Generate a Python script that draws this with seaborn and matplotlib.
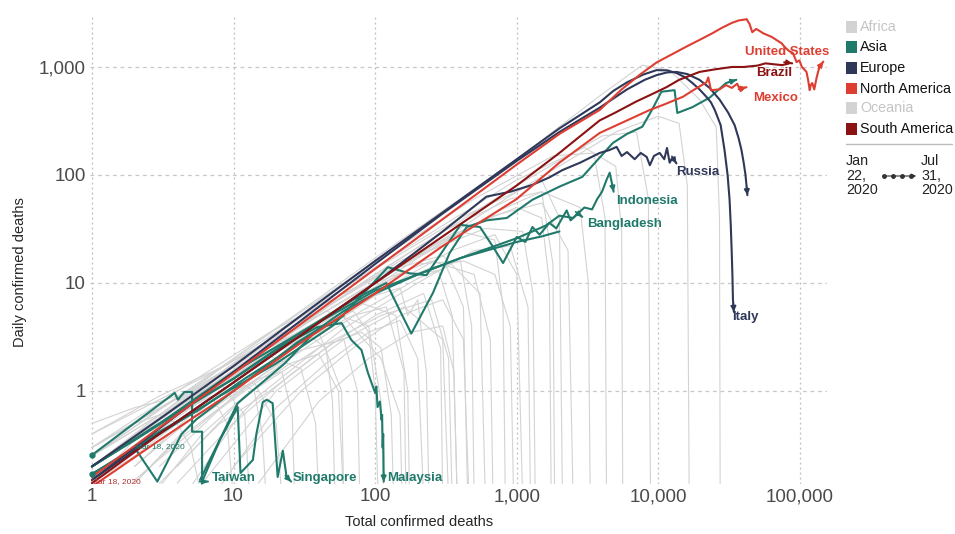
import matplotlib
matplotlib.use("Agg")
import matplotlib.pyplot as plt
from matplotlib.lines import Line2D
from matplotlib.patches import Rectangle, FancyArrowPatch
from matplotlib.ticker import FuncFormatter, NullLocator
import numpy as np
import pandas as pd
import seaborn as sns

TEAL = '#1f7a6b'
NAVY = '#2f3859'
RED = '#de3e31'
DARKRED = '#8a1212'
GREY = '#d3d3d3'

# highlighted countries: total confirmed deaths vs daily confirmed deaths
us_total = [1, 2, 5, 10, 30, 100, 300, 1000, 2000, 3850, 5500, 7500, 9700, 13000, 16000, 19500, 24000,
            28000, 33000, 37000, 40000, 42000, 44000, 46000, 49000, 52000, 55000, 58000, 63000, 68000,
            74000, 79000, 84000, 89000, 94500, 99000, 103000, 107000, 111000, 114000, 117000, 119000,
            122000, 126000, 131000, 137000, 146000]
us_daily = [0.16, 0.31, 0.75, 1.45, 4.2, 13.5, 39, 125, 240, 400, 620, 860, 1100, 1350, 1560, 1780, 2050,
            2300, 2560, 2700, 2740, 2770, 2500, 2100, 2250, 2150, 2050, 1990, 1900, 1780,
            1660, 1500, 1400, 1350, 1110, 1150, 1000, 950, 900, 760, 610, 680,
            710, 620, 800, 1000, 1120]

brazil_total = [1, 3, 10, 30, 100, 300, 1000, 2000, 3850, 5000, 7000, 9000, 11400, 14000, 19500, 25000,
                33000, 40000, 50000, 57000, 65000, 75000, 84000, 88000]
brazil_daily = [0.14, 0.4, 1.2, 3.3, 10, 27, 80, 160, 320, 380, 480, 560, 650, 760, 900, 950,
                1000, 1000, 1030, 1080, 1060, 1040, 1090, 1080]

mexico_total = [1, 3, 10, 30, 100, 300, 1000, 2000, 3850, 6000, 8700, 11000, 14900, 18000, 21800, 22500,
                23500, 27000, 30000, 33000, 36000, 38000, 40000, 41900]
mexico_daily = [0.13, 0.35, 1.0, 2.8, 8, 22, 60, 130, 245, 320, 400, 450, 530, 620, 720, 800,
                610, 620, 680, 640, 700, 600, 640, 650]

india_total = [1, 3, 10, 30, 70, 120, 150, 180, 256, 336, 443, 612, 850, 1290, 2000, 2900, 4770,
               6000, 7700, 9000, 10500, 13000, 13600, 17400, 23000, 30000, 35500]
india_daily = [0.2, 0.5, 1.5, 3.5, 7, 10, 5.5, 3.4, 8.1, 19, 33, 38, 40, 59, 78, 96, 198,
               240, 280, 400, 590, 610, 375, 425, 520, 710, 760]

italy_total = [1, 3, 10, 30, 100, 300, 1000, 2000, 3850, 4800, 6000, 7800, 9700, 11500, 13400, 15500,
               17400, 19500, 21800, 23500, 25000, 27500, 29300, 30800, 31800, 32400, 32900, 33300,
               33600, 34100]
italy_daily = [0.2, 0.55, 1.7, 5, 16, 45, 140, 270, 470, 600, 720, 850, 935, 930, 880, 800,
               710, 620, 530, 470, 400, 290, 170, 100, 59, 35, 20, 12,
               7, 5.4]

uk_total = [1, 3, 10, 30, 100, 300, 1000, 2000, 3850, 6000, 8000, 9700, 11500, 13400, 16000, 19500,
            23000, 27000, 31000, 34500, 36800, 38600, 40000, 41200, 42500]
uk_daily = [0.15, 0.45, 1.5, 4.5, 15, 44, 135, 250, 420, 620, 760, 840, 890, 900, 860, 760,
            640, 500, 380, 290, 220, 170, 130, 100, 65]

russia_total = [1, 10, 100, 300, 610, 900, 1290, 1700, 2100, 2800, 3850, 4500, 5070, 5500, 6000, 6800,
                7500, 8260, 8700, 9300, 10200, 11000, 11500, 12000, 12600, 13400]
russia_daily = [0.15, 1.2, 10, 30, 63, 70, 81, 95, 111, 130, 160, 170, 182, 150, 163, 140,
                160, 147, 123, 150, 160, 140, 178, 130, 145, 128]

indonesia_total = [1, 3, 10, 30, 100, 200, 400, 700, 1000, 1290, 1600, 2000, 2500, 3000, 3400, 3700,
                   4000, 4300, 4530, 4750, 4830]
indonesia_daily = [0.2, 0.5, 1.3, 3.5, 8.5, 12, 17, 22, 26, 30, 34, 42, 40, 50, 48, 60,
                   70, 90, 105, 78, 70]

bangladesh_total = [1, 3, 8, 20, 50, 90, 123, 175, 230, 400, 550, 680, 800, 1000, 1150, 1290, 1450,
                    1700, 1900, 2250, 2400, 2500, 2700, 2900]
bangladesh_daily = [0.17, 0.4, 0.9, 1.8, 4, 9, 14, 12.3, 11.8, 34.5, 33, 21.6, 15.3, 26.7, 24, 33, 28,
                    36, 32, 47, 38, 40, 44, 41]

malaysia_total = [1, 2, 5, 10, 20, 39, 58, 68, 80, 89, 100, 102, 104, 108, 111, 112, 113, 114, 115]
malaysia_daily = [0.2, 0.35, 0.75, 1.3, 2.4, 3.9, 4.25, 2.96, 2.4, 1.47, 0.96, 1.1, 0.71, 0.8, 0.54, 0.6,
                  0.3, 0.4, 0.145]

taiwan_total = [1, 3.85, 4.05, 4.5, 5.1, 5.1, 6.0, 6.0, 6.6]
taiwan_daily = [0.255, 0.96, 0.83, 0.98, 0.98, 0.42, 0.42, 0.145, 0.145]

singapore_total = [6.0, 8, 10.7, 11.2, 13.7, 14.5, 16.1, 17.2, 18.9, 19.6, 20.5, 22.3, 23.7, 25.5]
singapore_daily = [0.145, 0.35, 0.71, 0.174, 0.23, 0.4, 0.79, 0.83, 0.77, 0.375, 0.16, 0.28, 0.16, 0.145]

asia_a_total = [2.0, 2.9, 4.3, 5.5, 8, 11, 15, 20, 28, 38]
asia_a_daily = [0.3, 0.145, 0.4, 0.55, 0.8, 1.1, 1.5, 2.0, 2.8, 3.6]

asia_b_total = [1, 2, 3, 4, 5.5, 8, 12, 20, 35, 60]
asia_b_daily = [0.17, 0.3, 0.42, 0.52, 0.65, 0.9, 1.3, 2.0, 3.3, 5.0]

asia_c_total = [5.8, 10.7, 23, 39, 60, 100, 200, 400, 700, 1000, 1500, 2000]
asia_c_daily = [0.15, 0.77, 1.8, 3.7, 5.5, 8, 12, 17, 21, 24, 27, 30]

# other countries (Africa, Oceania and the rest) in grey
grey_total = [
    [1, 2, 3, 4, 5, 6],
    [1, 2, 4, 7, 9, 10],
    [1, 3, 6, 10, 14, 16, 17],
    [2, 4, 8, 15, 22, 26, 27],
    [1, 3, 8, 20, 35, 45, 50, 52],
    [3, 6, 12, 25, 40, 55, 60],
    [1, 5, 15, 40, 70, 90, 100, 105],
    [5, 10, 25, 50, 80, 110, 130, 135],
    [1, 4, 10, 30, 80, 150, 170, 200, 215, 230, 240],
    [8, 20, 45, 90, 150, 200, 220],
    [2, 6, 20, 60, 150, 280, 350, 380],
    [1, 5, 20, 70, 200, 400, 480, 500],
    [10, 30, 70, 150, 300, 420, 460],
    [1, 3, 10, 40, 150, 400, 700, 800, 830],
    [3, 10, 35, 120, 350, 700, 1000, 1100],
    [1, 8, 40, 150, 500, 1000, 1500, 1700, 1750],
    [15, 40, 90, 180, 300, 360, 380],
    [1, 2, 5, 15, 50, 150, 300, 550, 600],
    [1, 10, 100, 1000, 3000, 5000, 5500, 5600],
    [1, 10, 100, 1000, 4000, 7000, 8500, 8800],
    [1, 10, 100, 1000, 4000, 7700, 12000, 19500, 25600, 27000, 27300],
    [2, 10, 50, 200, 700, 1500, 2800, 3200, 3300],
    [1, 5, 30, 150, 600, 1500, 2300, 2500],
    [4, 15, 60, 200, 500, 900, 1200, 1250],
    [1, 6, 30, 100, 250, 500, 650, 680],
    [6, 20, 60, 160, 300, 330],
    [1, 4, 12, 35, 80, 140, 170, 175],
    [2, 5, 12, 30, 60, 75, 78],
    [1, 2, 3, 8, 12, 13],
    [1, 3, 7, 20, 40, 58, 60],
    [1, 8, 60, 400, 1500, 2000, 2100],
    [1, 2, 6, 18, 45, 90, 110, 115],
    [3, 8, 18, 45, 100, 220, 290, 300],
    [1, 10, 100, 1000, 5000, 10000, 14000, 16000, 16500],
    [1, 4, 15, 50, 120, 250, 420, 700, 900, 950],
    [2, 7, 25, 80, 200, 320, 420, 450],
    [1, 2, 4, 9, 18, 30, 38, 40],
    [2, 5, 14, 35, 70, 120, 160, 165],
    [1, 3, 9, 25, 60, 110, 150, 155],
    [1, 6, 25, 90, 300, 900, 1500, 1800, 1850],
    [4, 12, 40, 110, 250, 330, 350],
    [1, 2, 4, 8, 14, 20, 22],
    [1, 10, 80, 500, 1800, 3500, 4200, 4300],
    [1, 5, 18, 60, 200, 600, 1100, 1300, 1350],
]
grey_daily = [
    [0.3, 0.5, 0.6, 0.5, 0.3, 0.1],
    [0.15, 0.3, 0.6, 0.9, 0.5, 0.1],
    [0.2, 0.5, 0.9, 1.3, 1.0, 0.4, 0.1],
    [0.14, 0.35, 0.7, 1.3, 1.5, 0.6, 0.1],
    [0.25, 0.6, 1.2, 2.4, 3.2, 2.5, 0.8, 0.1],
    [0.13, 0.4, 0.9, 1.8, 2.2, 1.0, 0.1],
    [0.3, 1.0, 2.2, 4.5, 5.5, 3.5, 1.0, 0.1],
    [0.13, 0.5, 1.4, 2.8, 3.5, 2.5, 0.6, 0.1],
    [0.2, 0.7, 1.5, 3.5, 7, 9, 5, 7, 3, 1.5, 0.1],
    [0.13, 0.7, 1.8, 3.5, 4.5, 2.0, 0.1],
    [0.3, 0.9, 2.5, 6, 12, 13, 5, 0.1],
    [0.15, 0.8, 2.6, 7, 15, 16, 4, 0.1],
    [0.2, 1.0, 2.5, 5, 7, 3, 0.1],
    [0.25, 0.6, 1.8, 5.5, 16, 30, 25, 6, 0.1],
    [0.2, 0.9, 3, 9, 20, 28, 12, 0.1],
    [0.4, 1.6, 5.5, 15, 35, 50, 40, 10, 0.1],
    [0.14, 0.8, 2.0, 3.5, 4.0, 1.5, 0.1],
    [0.14, 0.3, 0.8, 2.2, 6, 14, 18, 8, 0.1],
    [0.2, 1.8, 14, 90, 180, 120, 30, 0.1],
    [0.15, 1.5, 12, 80, 230, 250, 60, 0.1],
    [0.2, 2, 17, 140, 560, 1040, 935, 500, 277, 40, 0.1],
    [0.2, 1.2, 5, 17, 45, 70, 50, 10, 0.1],
    [0.15, 0.7, 3.5, 14, 40, 55, 20, 0.1],
    [0.14, 0.9, 3.8, 10, 20, 22, 6, 0.1],
    [0.2, 1.0, 4, 10, 16, 12, 3, 0.1],
    [0.14, 1.0, 3.0, 6, 3, 0.1],
    [0.15, 0.6, 1.6, 3.8, 6.5, 5, 1, 0.1],
    [0.14, 0.5, 1.1, 2.4, 3.0, 1.0, 0.1],
    [0.5, 0.7, 0.8, 1.2, 0.6, 0.1],
    [0.4, 0.9, 1.5, 3.0, 3.5, 1.0, 0.1],
    [0.25, 1.6, 9, 40, 90, 40, 0.1],
    [0.14, 0.35, 1.1, 2.8, 5.5, 4.0, 0.8, 0.1],
    [0.14, 0.5, 1.0, 2.5, 5, 8, 2.5, 0.1],
    [0.14, 1.2, 10, 70, 250, 350, 300, 80, 0.1],
    [0.2, 0.6, 1.8, 4.5, 9, 14, 16, 12, 4, 0.1],
    [0.15, 0.6, 2.0, 5.5, 11, 14, 6, 0.1],
    [0.2, 0.4, 0.7, 1.3, 2.1, 1.6, 0.5, 0.1],
    [0.2, 0.6, 1.5, 3.2, 5, 6, 1.5, 0.1],
    [0.3, 0.7, 1.6, 3.2, 4.8, 2, 0.6, 0.1],
    [0.2, 1.0, 3.5, 11, 30, 60, 70, 15, 0.1],
    [0.2, 0.9, 2.5, 5, 7, 2, 0.1],
    [0.14, 0.25, 0.5, 0.9, 1.2, 0.5, 0.1],
    [0.25, 2.0, 13, 60, 150, 160, 40, 0.1],
    [0.3, 1.2, 3.5, 8, 18, 32, 30, 8, 0.1],
]

continents = ['Africa', 'Asia', 'Europe', 'North America', 'Oceania', 'South America']
continent_colors = [GREY, TEAL, NAVY, RED, GREY, DARKRED]

# name, colour, totals, dailies, draw end arrow
series = [
    ('Asia b', TEAL, asia_b_total, asia_b_daily, False),
    ('Asia a', TEAL, asia_a_total, asia_a_daily, False),
    ('Asia c', TEAL, asia_c_total, asia_c_daily, False),
    ('Taiwan', TEAL, taiwan_total, taiwan_daily, True),
    ('Singapore', TEAL, singapore_total, singapore_daily, True),
    ('Malaysia', TEAL, malaysia_total, malaysia_daily, True),
    ('Bangladesh', TEAL, bangladesh_total, bangladesh_daily, True),
    ('Indonesia', TEAL, indonesia_total, indonesia_daily, True),
    ('India', TEAL, india_total, india_daily, True),
    ('Russia', NAVY, russia_total, russia_daily, True),
    ('United Kingdom', NAVY, uk_total, uk_daily, True),
    ('Italy', NAVY, italy_total, italy_daily, True),
    ('Mexico', RED, mexico_total, mexico_daily, True),
    ('Brazil', DARKRED, brazil_total, brazil_daily, True),
    ('United States', RED, us_total, us_daily, True),
]

rows = []
for name, color, tot, day, arrow in series:
    for i, (t, d) in enumerate(zip(tot, day)):
        rows.append({'country': name, 'step': i, 'total': t, 'daily': d})
hl = pd.DataFrame(rows)

grey_rows = []
for k, (tot, day) in enumerate(zip(grey_total, grey_daily)):
    for i, (t, d) in enumerate(zip(tot, day)):
        grey_rows.append({'line': k, 'step': i, 'total': t, 'daily': d})
grey = pd.DataFrame(grey_rows)

sns.set_theme(style='white')
plt.rcParams['font.family'] = ['Liberation Sans', 'DejaVu Sans']

fig = plt.figure(figsize=(9.55, 5.34), dpi=100)
ax = fig.add_axes([90 / 955, 50 / 534, 737 / 955, 470 / 534])
ax.set_xscale('log')
ax.set_yscale('log')
ax.set_xlim(0.97, 155000)
ax.set_ylim(0.1377, 3094)

sns.lineplot(data=grey, x='total', y='daily', units='line', estimator=None, sort=False,
             color=GREY, lw=0.8, ax=ax, legend=False)
sns.lineplot(data=hl, x='total', y='daily', hue='country', hue_order=[s[0] for s in series],
             palette={s[0]: s[1] for s in series}, estimator=None, sort=False,
             lw=1.5, ax=ax, legend=False)

# direction arrows at the end of each highlighted path
for name, color, tot, day, arrow in series:
    if not arrow:
        continue
    p1 = ax.transData.transform((tot[-2], day[-2]))
    p2 = ax.transData.transform((tot[-1], day[-1]))
    d = (p2 - p1) / np.hypot(*(p2 - p1))
    ax.annotate('', xy=(tot[-1], day[-1]), xytext=(-d[0] * 6, -d[1] * 6), textcoords='offset points',
                arrowprops=dict(arrowstyle='-|>', color=color, lw=1.2, mutation_scale=8,
                                shrinkA=0, shrinkB=0), annotation_clip=False)

# start dots
ax.plot(taiwan_total[0], taiwan_daily[0], 'o', color=TEAL, ms=3.5, clip_on=False)
ax.plot(asia_b_total[0], asia_b_daily[0], 'o', color=TEAL, ms=3.5, clip_on=False)

labels = [
    ('United States', RED, 40600, 1377),
    ('Brazil', DARKRED, 49300, 880),
    ('Mexico', RED, 47000, 516),
    ('Russia', NAVY, 13430, 107),
    ('Indonesia', TEAL, 4990, 57.4),
    ('Bangladesh', TEAL, 3160, 35.2),
    ('Italy', NAVY, 33400, 4.84),
    ('Taiwan', TEAL, 7.03, 0.156),
    ('Singapore', TEAL, 26.2, 0.156),
    ('Malaysia', TEAL, 121, 0.156),
]
for text, color, x, y in labels:
    ax.text(x, y, text, color=color, fontsize=9.5, fontweight='bold', ha='left', va='center')

ax.text(0.98, 0.146, 'Mar 18, 2020', color='#b03232', fontsize=6, ha='left', va='center')
ax.text(2.01, 0.303, 'Mar 18, 2020', color=TEAL, fontsize=6, ha='left', va='center')

# axes styling
ax.set_xticks([1, 10, 100, 1000, 10000, 100000])
ax.set_yticks([1, 10, 100, 1000])
ax.xaxis.set_minor_locator(NullLocator())
ax.yaxis.set_minor_locator(NullLocator())
fmt = FuncFormatter(lambda v, p: f'{v:,.0f}')
ax.xaxis.set_major_formatter(fmt)
ax.yaxis.set_major_formatter(fmt)
ax.tick_params(length=0, labelsize=13.5, labelcolor='#4a4a4a', pad=3)
ax.xaxis.grid(True, ls=(0, (1.5, 2.5)), color='#bdbdbd', lw=0.9)
ax.yaxis.grid(True, ls=(0, (3, 3)), color='#c8c8c8', lw=0.9)
ax.set_axisbelow(True)
ax.set_xlabel('')
ax.set_ylabel('')
sns.despine(ax=ax, left=True, bottom=True)

fig.text(419 / 955, 1 - 522 / 534, 'Total confirmed deaths', fontsize=10.5, ha='center', va='center')
fig.text(20 / 955, 1 - 272 / 534, 'Daily confirmed deaths', fontsize=10.5, ha='center', va='center',
         rotation=90)

# legend
legend_y = [27, 47, 68, 89, 108, 129]
for name, color, y in zip(continents, continent_colors, legend_y):
    fig.add_artist(Rectangle((846 / 955, 1 - (y + 5.5) / 534), 11 / 955, 11 / 534,
                             transform=fig.transFigure, color=color, lw=0))
    tcolor = '#c4c4c4' if color == GREY else '#111111'
    fig.text(860 / 955, 1 - y / 534, name, fontsize=10.3, color=tcolor, ha='left', va='center')

fig.add_artist(Line2D([846 / 955, 952 / 955], [1 - 144 / 534] * 2, transform=fig.transFigure,
                      color='#bdbdbd', lw=1))
fig.text(846 / 955, 1 - 154 / 534, 'Jan\n22,\n2020', fontsize=10.3, ha='left', va='top', linespacing=1.05,
         color='#222222')
fig.text(921 / 955, 1 - 154 / 534, 'Jul\n31,\n2020', fontsize=10.3, ha='left', va='top', linespacing=1.05,
         color='#222222')
fig.add_artist(FancyArrowPatch((880 / 955, 1 - 176 / 534), (919 / 955, 1 - 176 / 534),
                               transform=fig.transFigure, arrowstyle='-|>', mutation_scale=7,
                               color='#333333', lw=0.8))
fig.add_artist(Line2D([884 / 955, 893 / 955, 902 / 955, 911 / 955], [1 - 176 / 534] * 4,
                      transform=fig.transFigure, ls='none', marker='o', ms=2.5, color='#333333'))

fig.savefig('out.png', dpi=100)
